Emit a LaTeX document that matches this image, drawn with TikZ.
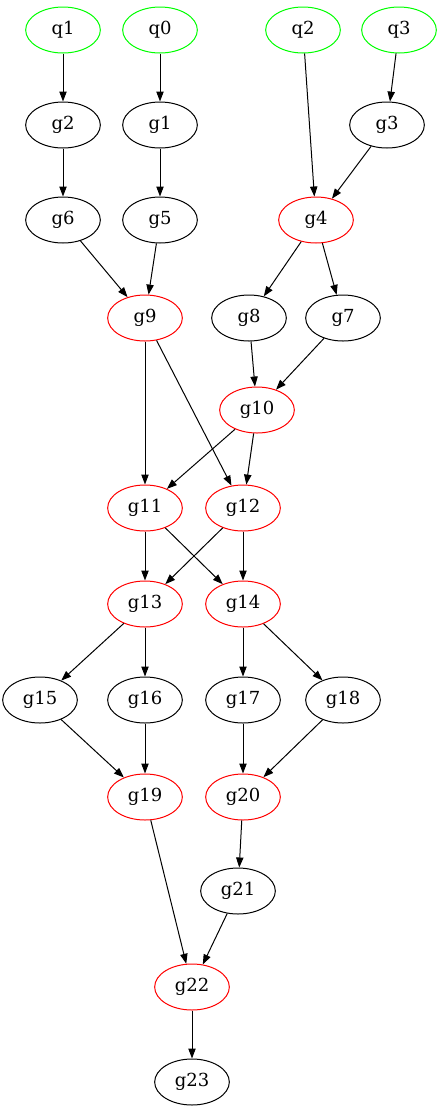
\documentclass[tikz,border=0pt]{standalone}
\usepackage{fontspec}
\setmainfont{DejaVu Serif}
\usetikzlibrary{shapes.geometric,arrows.meta}
\definecolor{qgreen}{RGB}{0,255,0}
\definecolor{gred}{RGB}{255,0,0}
\tikzset{
  gate/.style={draw,ellipse,minimum width=56pt,minimum height=34.5pt,inner sep=0pt,line width=0.75pt,font=\fontsize{13.5pt}{16pt}\selectfont},
  qbit/.style={gate,draw=qgreen},
  hot/.style={gate,draw=gred},
  wire/.style={-{Triangle[length=7.5pt,width=5.5pt]},line width=0.75pt}
}
\begin{document}
\begin{tikzpicture}[x=0.75pt,y=-0.75pt]
\useasboundingbox (0,0) rectangle (441,1115);
\node[qbit] (q1) at (63,30) {q1};
\node[qbit] (q0) at (160,30) {q0};
\node[qbit] (q2) at (303,30) {q2};
\node[qbit] (q3) at (399,30) {q3};
\node[gate] (g2) at (63,125) {g2};
\node[gate] (g1) at (160,125) {g1};
\node[gate] (g3) at (387,125) {g3};
\node[gate] (g6) at (63,220) {g6};
\node[gate] (g5) at (160,220) {g5};
\node[hot] (g4) at (316,220) {g4};
\node[hot] (g9) at (145,318) {g9};
\node[gate] (g8) at (249,318) {g8};
\node[gate] (g7) at (343,318) {g7};
\node[hot] (g10) at (257,410) {g10};
\node[hot] (g11) at (145,508) {g11};
\node[hot] (g12) at (243,508) {g12};
\node[hot] (g13) at (145,604) {g13};
\node[hot] (g14) at (243,604) {g14};
\node[gate] (g15) at (40,700) {g15};
\node[gate] (g16) at (145,700) {g16};
\node[gate] (g17) at (243,700) {g17};
\node[gate] (g18) at (343,700) {g18};
\node[hot] (g19) at (145,797) {g19};
\node[hot] (g20) at (243,797) {g20};
\node[gate] (g21) at (238,891) {g21};
\node[hot] (g22) at (192,987) {g22};
\node[gate] (g23) at (192,1082) {g23};
% edges
\draw[wire] (q1) -- (g2);
\draw[wire] (q0) -- (g1);
\draw[wire] (q2) -- (g4);
\draw[wire] (q3) -- (g3);
\draw[wire] (g2) -- (g6);
\draw[wire] (g1) -- (g5);
\draw[wire] (g3) -- (g4);
\draw[wire] (g6) -- (g9);
\draw[wire] (g5) -- (g9);
\draw[wire] (g4) -- (g8);
\draw[wire] (g4) -- (g7);
\draw[wire] (g9) -- (g11);
\draw[wire] (g9) -- (g12);
\draw[wire] (g8) -- (g10);
\draw[wire] (g7) -- (g10);
\draw[wire] (g10) -- (g11);
\draw[wire] (g10) -- (g12);
\draw[wire] (g11) -- (g13);
\draw[wire] (g11) -- (g14);
\draw[wire] (g12) -- (g13);
\draw[wire] (g12) -- (g14);
\draw[wire] (g13) -- (g15);
\draw[wire] (g13) -- (g16);
\draw[wire] (g14) -- (g17);
\draw[wire] (g14) -- (g18);
\draw[wire] (g15) -- (g19);
\draw[wire] (g16) -- (g19);
\draw[wire] (g17) -- (g20);
\draw[wire] (g18) -- (g20);
\draw[wire] (g19) -- (g22);
\draw[wire] (g20) -- (g21);
\draw[wire] (g21) -- (g22);
\draw[wire] (g22) -- (g23);
\end{tikzpicture}
\end{document}
